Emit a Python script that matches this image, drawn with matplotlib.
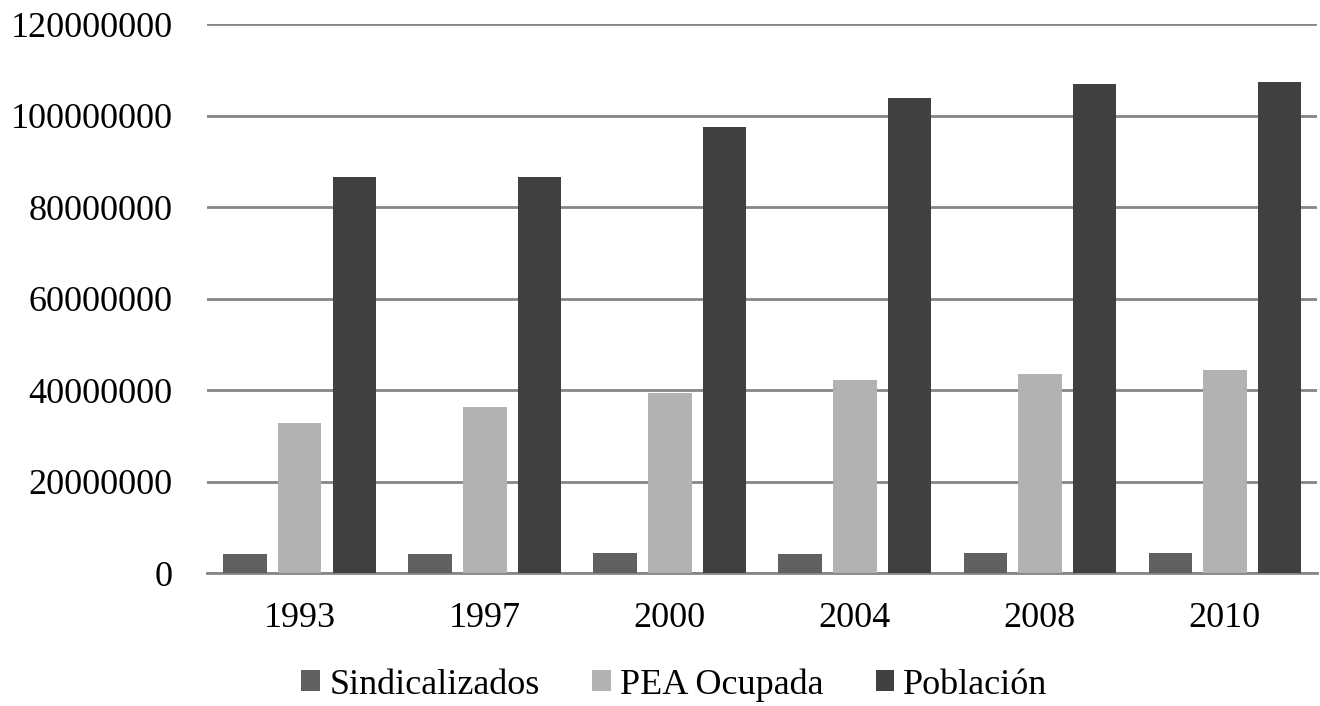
import numpy as np
import matplotlib
matplotlib.use("Agg")
import matplotlib.pyplot as plt

years = ["1993", "1997", "2000", "2004", "2008", "2010"]
sindicalizados = [4300000, 4300000, 4500000, 4150000, 4500000, 4500000]
pea_ocupada = [32800000, 36300000, 39300000, 42200000, 43600000, 44500000]
poblacion = [86600000, 86600000, 97500000, 103900000, 106800000, 107300000]

series = [
    ("Sindicalizados", sindicalizados, "#606060"),
    ("PEA Ocupada", pea_ocupada, "#b2b2b2"),
    ("Población", poblacion, "#404040"),
]

plt.rcParams["font.family"] = ["Liberation Serif", "DejaVu Serif"]

fig = plt.figure(figsize=(13.2, 7.06), dpi=100)
ax = fig.add_axes([0.157, 0.188, 0.841, 0.778])

x = np.arange(len(years))
width = 0.235
step = 0.295
for k, (name, vals, color) in enumerate(series):
    ax.bar(x + (k - 1) * step, vals, width, color=color, label=name, zorder=3)

ax.set_xlim(-0.5, len(years) - 0.5)
ax.set_ylim(0, 120000000)
ax.set_yticks(np.arange(0, 120000001, 20000000))
ax.set_yticklabels([f"{v:d}" for v in range(0, 120000001, 20000000)])
ax.set_xticks(x)
ax.set_xticklabels(years)
ax.tick_params(axis="both", length=0, labelsize=26, colors="black")
ax.tick_params(axis="y", pad=25)
ax.tick_params(axis="x", pad=21)
ax.yaxis.grid(True, color="#868686", linewidth=2, zorder=0)
for s in ["top", "right", "left"]:
    ax.spines[s].set_visible(False)
ax.spines["bottom"].set_color("#868686")
ax.spines["bottom"].set_linewidth(2)

fig.legend(loc="center", bbox_to_anchor=(0.511, 0.03), ncol=3, frameon=False,
           fontsize=26, handlelength=0.52, handleheight=0.52, handletextpad=0.25,
           columnspacing=1.45)

fig.savefig("out.png", dpi=100)
